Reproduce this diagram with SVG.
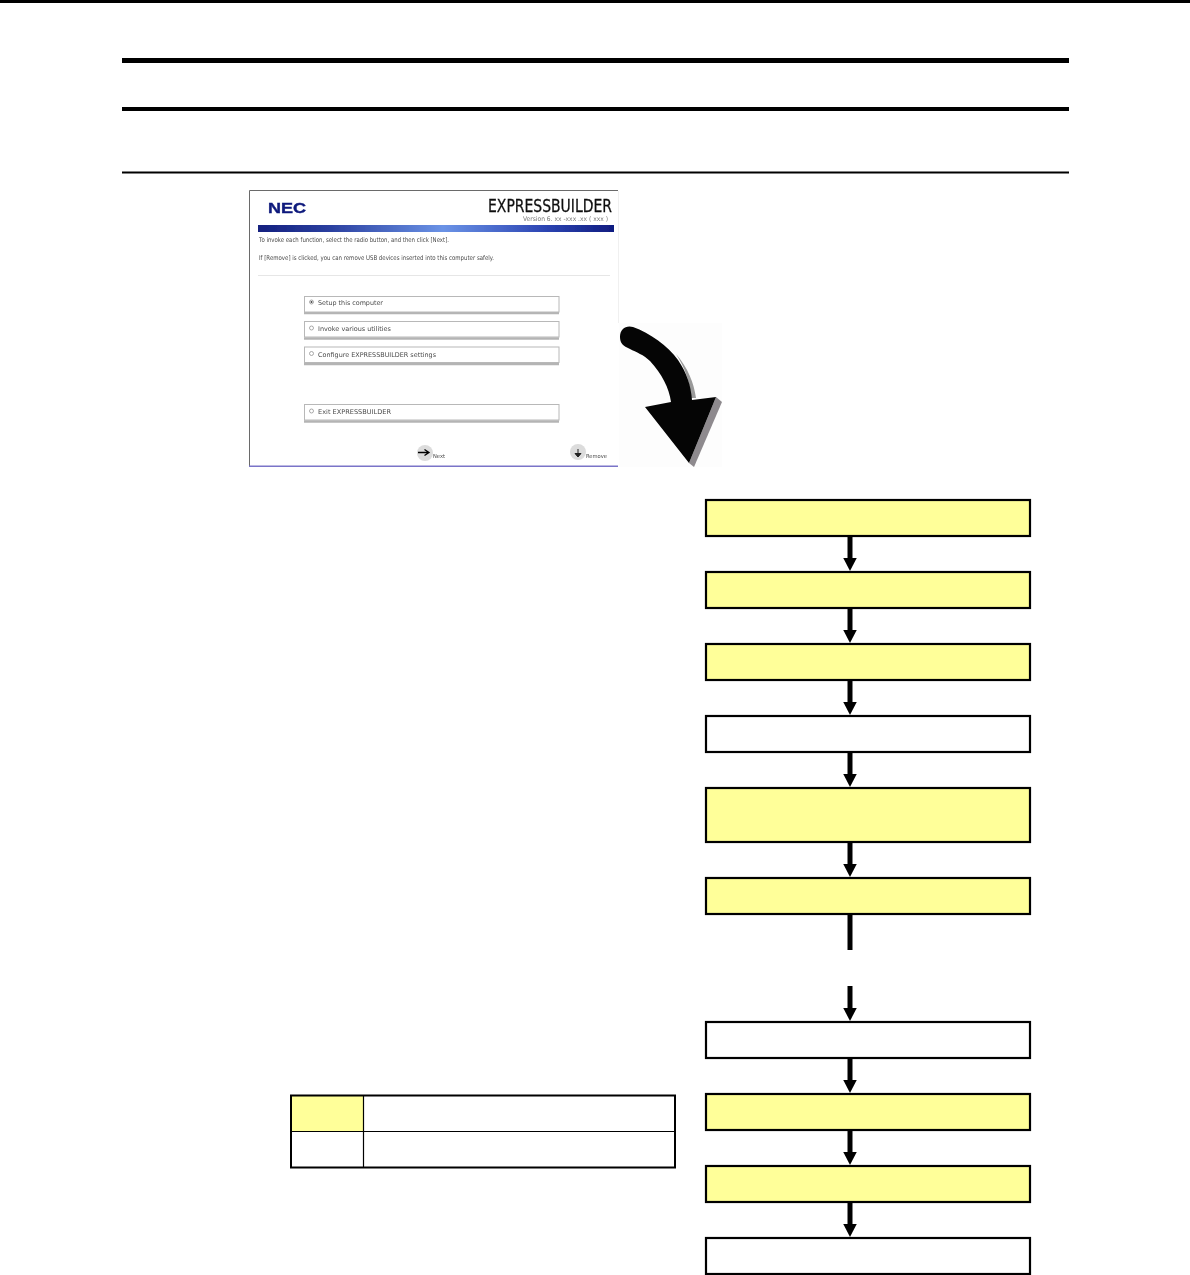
<svg xmlns="http://www.w3.org/2000/svg" width="1190" height="1275" viewBox="0 0 1190 1275">
<style>
.rule{fill:#000}
.box{stroke:#000;stroke-width:2.2;fill:#ffff99}
.w{fill:#fff}
.link{stroke:#000;stroke-width:5;fill:none}
.ui{font-family:"DejaVu Sans",Verdana,sans-serif;fill:#4a4a4a;font-size:6.5px}
.btn{fill:#fff;stroke:#b8b8b8;stroke-width:1}
.sh{stroke:#b4b4b4;stroke-width:2.5;fill:none}
.radio{fill:#fff;stroke:#888;stroke-width:.7}
.tbl{stroke:#000;fill:none}
</style>
<defs>
<marker id="ah" markerUnits="userSpaceOnUse" markerWidth="14" markerHeight="14" refX="0.5" refY="7" orient="auto"><path d="M0,0 L13.500,7 L0,14 Z" fill="#000"/></marker>
<linearGradient id="bar" x1="0" x2="1" y1="0" y2="0"><stop offset="0" stop-color="#14207f"/><stop offset=".2" stop-color="#2a3f9f"/><stop offset=".52" stop-color="#6b93e6"/><stop offset=".8" stop-color="#2d46b4"/><stop offset="1" stop-color="#101c80"/></linearGradient>
<filter id="soft" x="-5%" y="-5%" width="110%" height="110%"><feGaussianBlur stdDeviation=".45"/></filter>
</defs>
<rect width="1190" height="1275" fill="#fff"/>
<g id="page-rules">
<rect class="rule" x="0" y="0" width="1190" height="3"/>
<rect class="rule" x="122" y="58" width="947" height="5"/>
<rect class="rule" x="122" y="107" width="947" height="4"/>
<rect class="rule" x="122" y="171.500" width="947" height="2"/>
</g>
<g id="screenshot">
<rect x="249" y="190" width="370" height="277" fill="#fff"/>
<path d="M249.500,467V190.500H618" fill="none" stroke="#6a6a6a" stroke-width="1"/>
<path d="M618.500,191V323" fill="none" stroke="#f0f0f0" stroke-width="1"/>
<rect x="249" y="465.500" width="369" height="1.500" fill="#7a74c8"/>
<g filter="url(#soft)">
<text x="268" y="213" font-family="'Liberation Sans',Arial,sans-serif" font-weight="700" font-size="15" fill="#0b1a7c" stroke="#0b1a7c" stroke-width=".4" textLength="38" lengthAdjust="spacingAndGlyphs">NEC</text>
<text x="488" y="212" font-family="'DejaVu Sans',Verdana,sans-serif" font-size="18" fill="#111" stroke="#111" stroke-width=".3" textLength="124" lengthAdjust="spacingAndGlyphs">EXPRESSBUILDER</text>
<text class="ui" x="523" y="220.500" textLength="85" lengthAdjust="spacingAndGlyphs" style="fill:#777">Version 6. xx -xxx .xx ( xxx )</text>
<rect x="258" y="225" width="356" height="7" fill="url(#bar)"/>
<text class="ui" x="259" y="242" textLength="190" lengthAdjust="spacingAndGlyphs">To invoke each function, select the radio button, and then click [Next].</text>
<text class="ui" x="259" y="260" textLength="235" lengthAdjust="spacingAndGlyphs">If [Remove] is clicked, you can remove USB devices inserted into this computer safely.</text>
<path d="M258,275.500H610" stroke="#e6e6e6" stroke-width="1"/>
<g id="opt-setup"><path class="sh" d="M304,313H559"/><rect class="btn" x="304.500" y="296.500" width="254.500" height="15.500"/><circle class="radio" cx="311.500" cy="302" r="2"/><circle cx="311.500" cy="302" r="1" fill="#444"/><text class="ui" x="318" y="305" textLength="65" lengthAdjust="spacingAndGlyphs">Setup this computer</text></g>
<g id="opt-invoke"><path class="sh" d="M304,338.500H559"/><rect class="btn" x="304.500" y="321.500" width="254.500" height="15.500"/><circle class="radio" cx="311.500" cy="328" r="2"/><text class="ui" x="318" y="331" textLength="73" lengthAdjust="spacingAndGlyphs">Invoke various utilities</text></g>
<g id="opt-config"><path class="sh" d="M304,364H559"/><rect class="btn" x="304.500" y="347" width="254.500" height="15.500"/><circle class="radio" cx="311.500" cy="353.500" r="2"/><text class="ui" x="318" y="357" textLength="118" lengthAdjust="spacingAndGlyphs">Configure EXPRESSBUILDER settings</text></g>
<g id="opt-exit"><path class="sh" d="M304,421.500H559"/><rect class="btn" x="304.500" y="404.500" width="254.500" height="15.500"/><circle class="radio" cx="311.500" cy="411" r="2"/><text class="ui" x="318" y="414" textLength="73" lengthAdjust="spacingAndGlyphs">Exit EXPRESSBUILDER</text></g>
<g id="btn-next"><circle cx="425" cy="453" r="8" fill="#dcdcdc"/><path d="M418,452.500H428M424.500,449.500L429,452.500L424.500,455.500" fill="none" stroke="#000" stroke-width="1.300"/><text class="ui" x="433" y="457.500" textLength="12" lengthAdjust="spacingAndGlyphs" style="font-size:5.500px">Next</text></g>
<g id="btn-remove"><circle cx="578" cy="452" r="8" fill="#dcdcdc"/><path d="M578,449V456M575,453.500L578,457L581,453.500Z" fill="#222" stroke="#222" stroke-width="1"/><text class="ui" x="586" y="457.500" textLength="21" lengthAdjust="spacingAndGlyphs" style="font-size:5.500px">Remove</text></g>
</g>
</g>
<g id="big-arrow">
<rect x="619" y="323" width="103" height="144" fill="#fdfdfd"/>
<path d="M676,354 C688,368 694,383 696,398 L691,398 C690,382 685,368 676,354Z" fill="#9a9a9a"/>
<path d="M716,397 L722,402 L694,467 L689,463Z" fill="#8e8a8e"/>
<path d="M620,337 C620,329 626,325 633,327 C650,333 668,346 678,360 C687,373 691,386 692,400 L716,397 L689,463 L645,407 L671,402 C669,388 662,374 650,361 C644,355 636,352 630,349 C623,346 620,343 620,337Z" fill="#050505"/>
</g>
<g id="connectors">
<path class="link" d="M850,537V558" marker-end="url(#ah)"/>
<path class="link" d="M850,609V630" marker-end="url(#ah)"/>
<path class="link" d="M850,681V702" marker-end="url(#ah)"/>
<path class="link" d="M850,753V774" marker-end="url(#ah)"/>
<path class="link" d="M850,843V864" marker-end="url(#ah)"/>
<path class="link" d="M850,915V950"/>
<path class="link" d="M850,986V1008" marker-end="url(#ah)"/>
<path class="link" d="M850,1059V1080" marker-end="url(#ah)"/>
<path class="link" d="M850,1131V1152" marker-end="url(#ah)"/>
<path class="link" d="M850,1203V1224" marker-end="url(#ah)"/>
</g>
<g id="step-1"><rect class="box" x="706" y="500" width="324" height="36"/></g>
<g id="step-2"><rect class="box" x="706" y="572" width="324" height="36"/></g>
<g id="step-3"><rect class="box" x="706" y="644" width="324" height="36"/></g>
<g id="step-4"><rect class="box w" x="706" y="716" width="324" height="36"/></g>
<g id="step-5"><rect class="box" x="706" y="788" width="324" height="54"/></g>
<g id="step-6"><rect class="box" x="706" y="878" width="324" height="36"/></g>
<g id="step-7"><rect class="box w" x="706" y="1022" width="324" height="36"/></g>
<g id="step-8"><rect class="box" x="706" y="1094" width="324" height="36"/></g>
<g id="step-9"><rect class="box" x="706" y="1166" width="324" height="36"/></g>
<g id="step-10"><rect class="box w" x="706" y="1238" width="324" height="36"/></g>
<g id="legend">
<rect x="292" y="1096" width="71" height="35" fill="#ffff99"/>
<path class="tbl" d="M290,1095.500H676M290,1167.500H676M291,1095V1168M675,1095V1168" stroke-width="2"/>
<path class="tbl" d="M291,1131.500H676M363.500,1095V1168" stroke-width="1.200"/>
</g>
</svg>
